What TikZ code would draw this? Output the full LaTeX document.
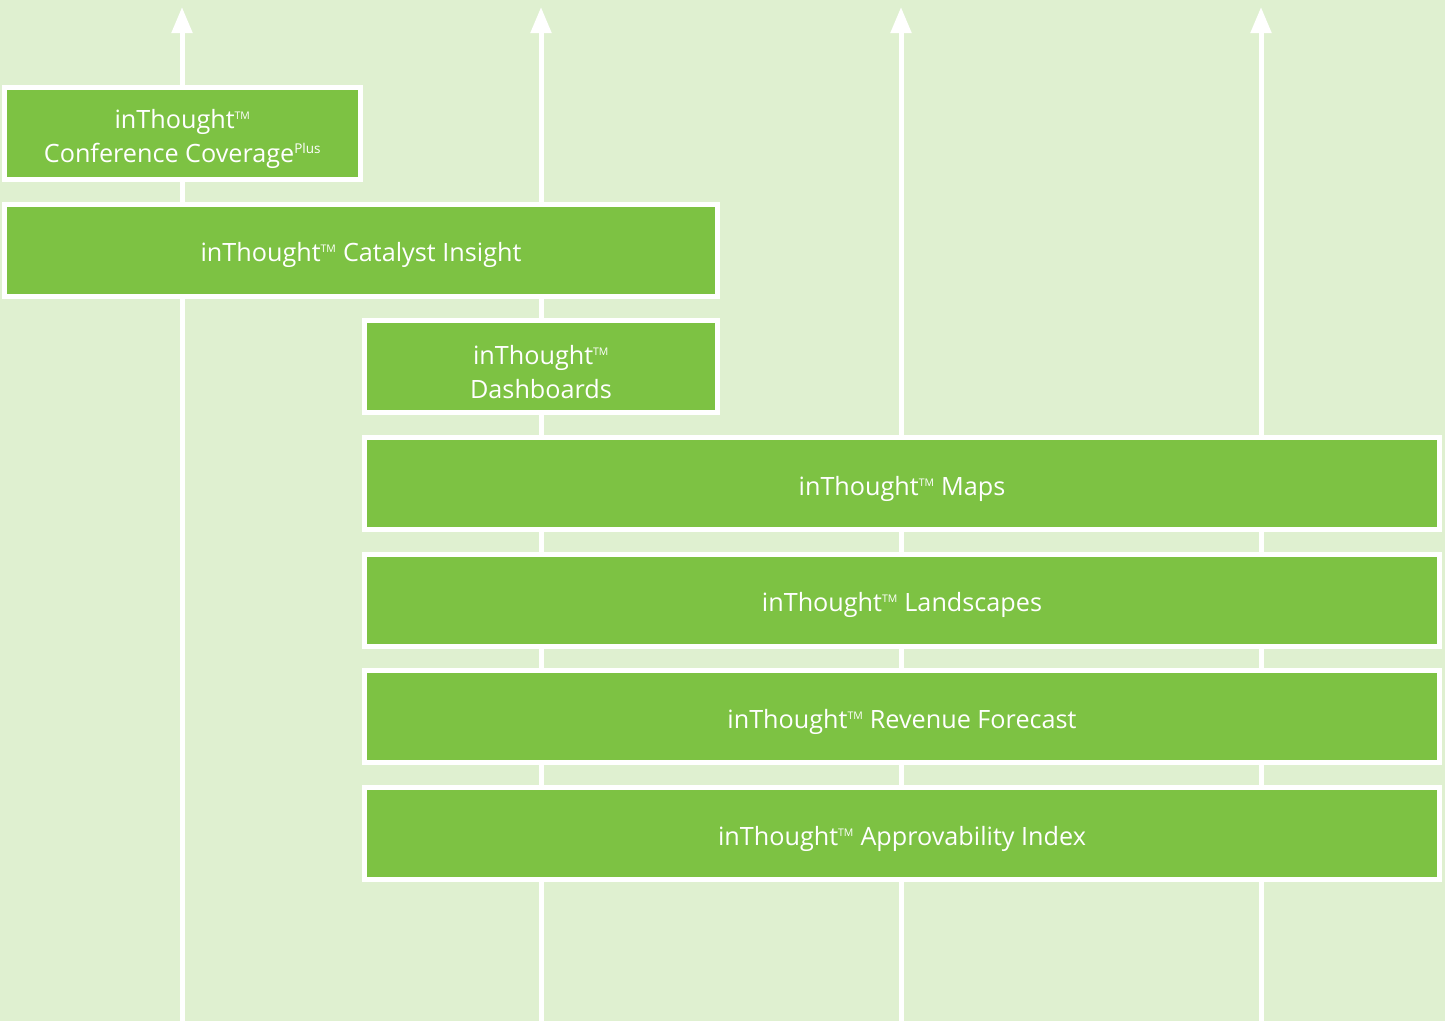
\documentclass[tikz,border=0pt]{standalone}
\usepackage{fontspec}
\setmainfont{Open Sans}
\usetikzlibrary{arrows.meta}
\definecolor{bgg}{RGB}{223,240,208}
\definecolor{boxg}{RGB}{125,194,67}
\newcommand\tmark{\textsuperscript{\fontsize{10.5}{10.5}\selectfont TM}}
\newcommand\plusmark{\textsuperscript{\fontsize{13.5}{13.5}\selectfont Plus}}
\begin{document}
\begin{tikzpicture}[x=1pt,y=-1pt,
  prod/.style={draw=white, line width=5pt, fill=boxg, inner sep=0pt, minimum height=92pt},
  lbl/.style={text=white, align=center, font=\fontsize{25.2}{34}\selectfont, inner sep=0pt, yshift=-5pt},
  flow/.style={draw=white, line width=5pt, -{Triangle[width=20pt,length=26pt]}}]
\fill[bgg] (0,0) rectangle (1445,1021);
\useasboundingbox (0,0) rectangle (1445,1021);
\foreach \i/\x in {1/182,2/541,3/901,4/1261}{
  \coordinate (b\i) at (\x,1021);
  \coordinate (t\i) at (\x,7);
  \draw[flow] (b\i) -- (t\i);
}
\node[prod, minimum width=356pt] (cc) at (182.5,133.5) {};
\node[prod, minimum width=713pt] (ci) at (361,250.2) {};
\node[prod, minimum width=353pt] (db) at (541,366.8) {};
\node[prod, minimum width=1075pt] (mp) at (902,483.5) {};
\node[prod, minimum width=1075pt] (ls) at (902,600.2) {};
\node[prod, minimum width=1075pt] (rf) at (902,716.8) {};
\node[prod, minimum width=1075pt] (ai) at (902,833.5) {};
\node[lbl] (cct) at (cc.center) {inThought\tmark\\Conference Coverage\plusmark};
\node[lbl] (cit) at (ci.center) {inThought\tmark{} Catalyst Insight};
\node[lbl] (dbt) at (db.center) {inThought\tmark\\Dashboards};
\node[lbl] (mpt) at (mp.center) {inThought\tmark{} Maps};
\node[lbl] (lst) at (ls.center) {inThought\tmark{} Landscapes};
\node[lbl] (rft) at (rf.center) {inThought\tmark{} Revenue Forecast};
\node[lbl] (ait) at (ai.center) {inThought\tmark{} Approvability Index};
\end{tikzpicture}
\end{document}
